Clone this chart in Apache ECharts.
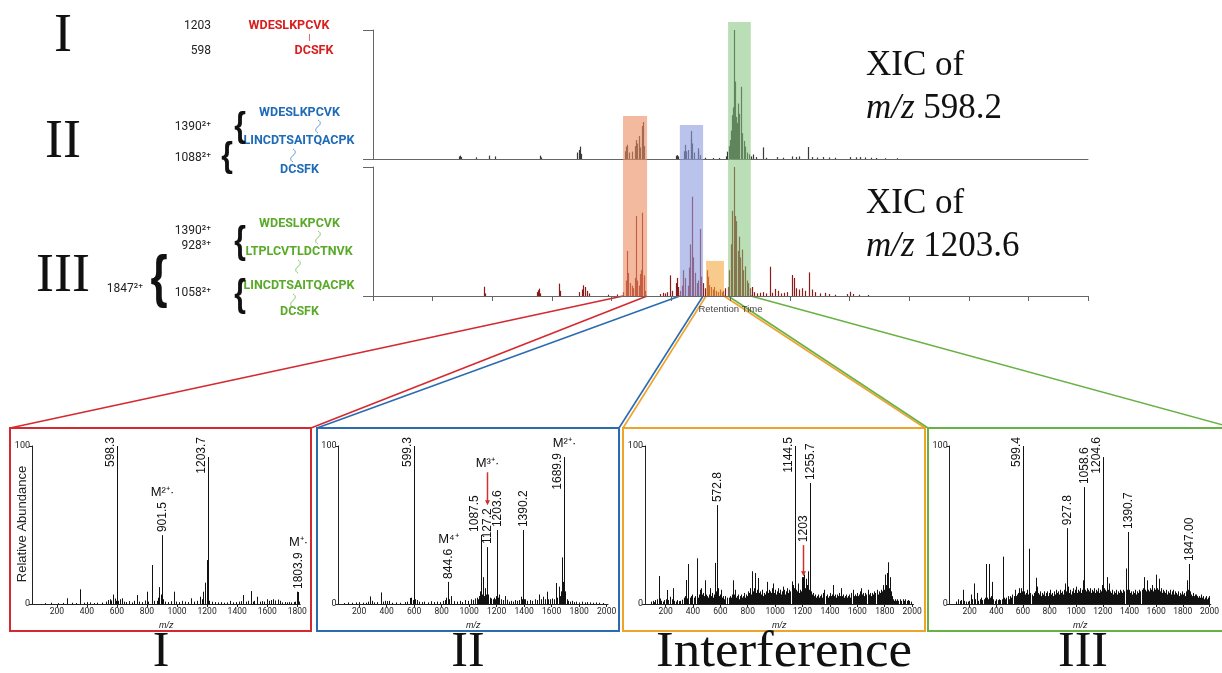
<!DOCTYPE html>
<html><head><meta charset="utf-8">
<script src="https://cdn.jsdelivr.net/npm/echarts@6/dist/echarts.min.js"></script>
<style>html,body{margin:0;padding:0;background:#fff}#c{width:1222px;height:673px}</style>
</head><body><div id="c"></div>
<script>
// ---------------- DATA ----------------
// XIC peaks [retention time, relative intensity %]
const xicUpper = [
[1.44,2],[1.46,2.6],[1.48,1.5],[1.73,1.3],[1.95,2.6],[2.05,2],[2.80,2.6],[2.82,1.2],[3.43,5],[3.45,7],[3.47,9.6],[3.49,4],
[4.23,6],[4.25,9.6],[4.27,11],[4.29,5],[4.34,5.7],[4.40,10],[4.41,14.7],[4.43,12],[4.46,17.8],[4.48,9],[4.51,25.6],[4.53,28.7],[4.55,10],
[5.08,2.5],[5.10,3],[5.12,2],[5.22,6],[5.24,11],[5.26,6],[5.29,7],[5.33,15],[5.34,21.7],[5.36,12],[5.38,5],[5.45,6],[5.46,8.3],[5.48,3],[5.58,1],[5.70,0.8],[5.80,0.8],
[5.92,2],[5.94,5.7],[5.97,10],[5.99,14.7],[6.01,22],[6.03,34],[6.04,40],[6.06,100],[6.08,60],[6.09,32.6],[6.11,28],[6.13,43],[6.15,35],[6.18,56],[6.20,20],[6.22,14],[6.24,9.6],[6.27,5],[6.31,3.6],[6.34,2],
[6.38,3.5],[6.42,1.5],[6.55,9],[6.60,1],[6.78,1.5],[6.88,1],[7.03,2],[7.10,1.5],[7.15,2],[7.30,9.3],[7.36,1.5],[7.45,1.2],[7.55,1.5],[7.65,1.2],[7.75,1],[8.00,1.5],[8.10,1.3],[8.18,1.5],[8.25,1.2],[8.35,1],[8.45,0.8],[8.60,0.6],[8.80,0.6]
];
const xicLower = [
[1.86,7.2],[1.88,2],
[2.76,3],[2.77,4.4],[2.79,5.7],[2.81,2],[3.13,9.6],[3.14,4],[3.46,3],[3.50,5],[3.53,8.3],[3.56,7],[3.59,4],[3.63,2],[3.95,1],[4.10,1.2],
[4.20,3],[4.24,12],[4.26,35],[4.28,17.8],[4.31,10],[4.34,8],[4.37,6],[4.39,14],[4.41,62],[4.43,12],[4.46,8],[4.48,17],[4.50,20],[4.515,64.6],[4.54,16],[4.57,4],
[4.82,1.5],[4.86,2.5],[4.90,2],[4.93,3],[4.985,16],[5.02,4],[5.08,10],[5.10,14],[5.12,7],[5.15,4],
[5.18,8],[5.21,20],[5.24,14],[5.28,8],[5.30,22],[5.32,40],[5.355,77],[5.37,30],[5.40,18],[5.43,10],[5.46,12],[5.49,52],[5.51,15],[5.54,10],[5.57,6],
[5.60,20],[5.62,15],[5.64,8.5],[5.67,7],[5.70,5],[5.73,7],[5.76,4],[5.79,3],[5.82,5],[5.85,3],[5.88,4],[5.91,6],
[5.95,7],[5.98,20],[6.00,40],[6.03,66],[6.06,100],[6.08,62],[6.10,58],[6.12,35],[6.14,46],[6.16,30],[6.19,36],[6.21,20],[6.24,23],[6.27,12],[6.30,10],[6.33,6],
[6.36,7],[6.40,3],[6.45,2],[6.50,2.5],[6.55,3],[6.60,2],[6.66,22.7],[6.70,2.5],[6.75,5.5],[6.80,4],[6.85,2],[6.90,2.5],[6.95,3],[7.04,16.3],[7.06,14],[7.10,6],[7.15,5],[7.20,6],[7.25,4],[7.32,18.3],[7.36,5],[7.42,3],[7.50,2],[7.58,2.5],[7.65,1.5],[7.75,1],[7.95,1.5],[8.00,3.3],[8.05,1.5],[8.15,1],[8.30,0.8]
];
// Highlighted retention-time windows (I, II, Interference, III)
const rtWindows = [[4.196,4.600],[5.150,5.540],[5.590,5.890],[5.960,6.340]];
const windowHeights = [0.657,0.624,0.128,1.0];

// MS spectra peaks [m/z, relative abundance]
const specI = [
[120,0.6],[160,0.8],[205,0.5],[240,0.7],[265,3.6],[300,0.8],[330,0.6],[354,9.3],[380,0.8],[400,1.2],[420,1.0],[445,0.6],[470,0.8],[500,0.9],[525,1.5],[540,2.5],[553,3.0],[562,2.2],[576,6.0],[587,3.5],[592,2.0],[598.3,100],[605,2.0],[620,3.0],[631,3.6],[645,1.5],[660,1.2],[680,1.8],[700,1.0],[712,2.0],[735,5.7],[750,1.5],[765,1.2],[785,2.2],[798,7.8],[810,1.5],[831,24.7],[845,2.0],[864,2.0],[875,4.0],[882,10.7],[890,6],[895,3],[901.5,43.6],[908,3.0],[920,1.5],[940,1.2],[960,1.8],[979,7.8],[990,1.5],[1010,1.2],[1030,2.0],[1050,1.5],[1070,1.2],[1090,3.6],[1110,1.5],[1130,2.0],[1152,4.6],[1165,3.0],[1175,7.8],[1186,13.5],[1197,27.8],[1203.7,93],[1209,5],[1215,2.0],[1230,1.5],[1250,1.2],[1270,1.0],[1290,1.2],[1310,0.8],[1330,1.0],[1352,2.0],[1370,1.0],[1390,1.2],[1410,1.5],[1425,1.8],[1441,5.7],[1460,1.5],[1475,2.0],[1490,8.2],[1505,1.5],[1515,2.0],[1530,4.6],[1550,1.5],[1565,1.8],[1580,1.5],[1597,3.0],[1610,2.0],[1625,2.5],[1640,3.0],[1655,2.2],[1670,2.8],[1685,2.0],[1700,1.0],[1715,1.2],[1730,1.0],[1745,1.2],[1760,1.0],[1775,1.2],[1785,1.5],[1796,7.8],[1803.9,7.6],[1810,1.5]
];
const specII = [
[90,0.6],[120,1.0],[150,0.8],[180,1.0],[200,1.2],[225,0.8],[250,0.8],[265,1.5],[279,4.8],[290,2.0],[310,1.0],[330,1.2],[359,7.3],[375,1.5],[390,2.0],[405,1.8],[415,2.0],[440,0.8],[470,1.0],[500,0.8],[530,1.2],[550,1.5],[570,3.8],[580,4.0],[590,2.5],[599.3,100],[600.3,25],[606,3],[620,2.5],[635,1.5],[655,1.2],[675,1.5],[700,1.0],[720,1.8],[745,1.2],[765,1.5],[790,1.2],[810,2.0],[825,2.5],[835,4.0],[844.6,14],[852,3],[870,5.0],[890,1.8],[910,1.5],[930,2.0],[950,1.2],[970,2.5],[990,2.0],[1010,3.0],[1025,2.5],[1040,3.5],[1055,4.0],[1065,3.0],[1075,5.0],[1082,8],[1087.5,43.7],[1093,6],[1100,17],[1108,5],[1117,10],[1122,6],[1127.2,36],[1133,5],[1140,6],[1150,4],[1160,3.5],[1170,3],[1180,4],[1190,3],[1198,5],[1203.6,46.8],[1210,4],[1220,6],[1235,3],[1248,2.5],[1260,5],[1275,2.7],[1290,1.5],[1305,2.0],[1320,1.5],[1335,2.5],[1350,2.0],[1365,2.5],[1377,4.6],[1385,3],[1390.2,46.8],[1396,3],[1403,3],[1420,2.0],[1440,2.5],[1460,2.0],[1480,3.0],[1495,2.5],[1510,6.0],[1520,3.0],[1539,4.6],[1550,3.0],[1563,7.8],[1575,3.0],[1590,3.0],[1605,3.5],[1615,3.0],[1630,13.3],[1640,4],[1650,11],[1660,5],[1666,8],[1673,29.5],[1680,11],[1685,14],[1689.9,93],[1695,8],[1700,6],[1710,3],[1720,2],[1735,1.5],[1750,2.0],[1765,1.2],[1780,1.5],[1800,1.0],[1820,1.5],[1840,1.0],[1860,1.2],[1880,1.0],[1900,0.8],[1920,1.0],[1945,0.8],[1970,0.6]
];
const specInt = [
[95,1.5],[105,2.0],[115,1.2],[125,2.5],[140,3.0],[152,17.7],[160,3.5],[170,2.0],[180,1.5],[190,2.5],[200,3.0],[212,8.9],[220,2.5],[232,4.6],[245,3.0],[256,10],[265,2.0],[275,1.5],[285,2.5],[295,1.8],[305,2.0],[320,2.7],[332,4],[340,5],[347,15.2],[355,3.5],[366,25.3],[375,4],[385,5],[395,6],[405,4],[415,5],[427,28.9],[435,4],[445,6],[452,9],[459,10],[467,6],[475,7],[481,5],[488,15],[495,6],[502,5],[510,4],[518,6],[526,10],[533,5],[540,7],[548,4],[555,6],[561,26],[567,8],[572.8,62.6],[578,8],[585,10],[592,5],[598,6],[604,9],[612,4],[620,5],[628,3],[636,5],[645,4],[652,3],[660,4],[668,5],[676,4],[683,6],[690,15],[697,6],[707,9],[715,4],[723,5],[730,6],[737,3],[745,5],[752,6],[760,4],[768,5],[775,7],[782,4],[790,6],[797,5],[805,8],[812,7],[818,10],[825,6],[833,20.7],[840,8],[846,10],[852,19.6],[858,7],[864,9],[870,6],[877,16.5],[884,7],[890,8],[897,6],[905,9],[912,5],[920,7],[927,6],[933,8],[940,14],[947,7],[953,9],[960,5],[966,8],[973,7],[980,10],[986,13],[993,7],[1000,9],[1007,6],[1013,8],[1020,10],[1027,7],[1034,9],[1040,6],[1047,8],[1054,11],[1061,7],[1068,9],[1075,6],[1082,8],[1090,10],[1097,7],[1104,9],[1112,8],[1120,14.3],[1127,9],[1134,12],[1140,10],[1144.5,100],[1150,9],[1158,8],[1165,13],[1172,7],[1180,9],[1186,8],[1193,17],[1199,9],[1203,17],[1210,18.7],[1216,10],[1222,16],[1230,9],[1236,12],[1242,20.7],[1249,9],[1255.7,76.6],[1262,8],[1268,6],[1275,7],[1282,5],[1290,6],[1297,4],[1305,5],[1312,6],[1320,4],[1328,5],[1335,6],[1342,4],[1350,7],[1360,9],[1368,5],[1375,6],[1383,4],[1390,5],[1398,7],[1405,5],[1412,6],[1420,12],[1428,5],[1435,6],[1443,4],[1450,6],[1458,5],[1465,7],[1472,5],[1480,10],[1488,5],[1495,6],[1503,4],[1510,5],[1518,6],[1525,4],[1533,5],[1540,6],[1548,4],[1555,7],[1567,9],[1575,5],[1583,6],[1590,5],[1598,7],[1605,5],[1613,6],[1620,8],[1627,10],[1635,6],[1642,7],[1650,5],[1658,7],[1665,6],[1676,9],[1684,6],[1692,7],[1700,5],[1708,7],[1716,6],[1724,8],[1732,7],[1740,9],[1748,6],[1755,8],[1762,7],[1770,9],[1777,8],[1784,10],[1790,12],[1795,9],[1801,18.6],[1807,12],[1813,19.6],[1819,14],[1825,26.4],[1831,10],[1837,17],[1843,8],[1850,5],[1858,3],[1866,2],[1875,3],[1884,2],[1892,3],[1900,2],[1910,3],[1920,2],[1930,3],[1940,2],[1950,3],[1960,2],[1970,2.5],[1980,2],[1990,1.5]
];
const specIII = [
[100,1.5],[112,3],[125,2],[135,2.5],[148,9],[158,2],[170,1.5],[185,1.5],[195,2],[208,6],[218,3],[232,13],[242,3],[256,7],[265,2],[275,3],[285,4],[295,2.5],[305,3],[315,4],[323,25.3],[332,4],[340,3],[347,25.3],[355,4],[362,5],[369,14],[378,3],[388,2],[398,3],[410,2.5],[420,3],[430,2.5],[440,3],[450,30],[458,4],[466,3],[475,4],[485,5],[495,3],[503,5],[512,4],[520,6],[530,5],[540,9],[548,5],[556,6],[563,7],[569,10],[577,7],[585,10],[592,8],[599.4,100],[600.4,72],[606,8],[613,6],[620,7],[630,9],[638,6],[647,35],[655,7],[665,6],[672,5],[680,7],[688,6],[694,8],[700,16.6],[705,11],[712,7],[720,6],[727,8],[734,5],[741,7],[748,6],[755,8],[762,5],[770,7],[777,6],[784,8],[790,5],[798,7],[805,9],[812,6],[820,7],[827,5],[835,8],[842,6],[850,9],[857,7],[864,8],[871,6],[878,9],[885,7],[892,8],[898,6],[905,9],[911,7],[916,13],[922,8],[927.8,48],[933,9],[940,11],[946,7],[953,9],[960,6],[967,8],[973,10],[980,7],[987,9],[994,8],[1000,11],[1007,7],[1014,9],[1020,8],[1027,10],[1034,7],[1041,9],[1050,15],[1058.6,74],[1065,9],[1072,8],[1078,10],[1085,7],[1092,9],[1099,8],[1106,10],[1113,7],[1120,9],[1127,8],[1134,10],[1141,7],[1148,9],[1155,8],[1162,10],[1170,7],[1177,9],[1183,8],[1190,12],[1197,9],[1204.6,93],[1210,10],[1216,9],[1223,8],[1230,17],[1238,9],[1247,13],[1254,8],[1261,7],[1268,9],[1275,6],[1282,8],[1290,7],[1297,9],[1304,6],[1311,8],[1318,7],[1325,9],[1332,6],[1339,8],[1346,7],[1353,9],[1360,8],[1370,22.5],[1378,9],[1385,10],[1390.7,45.6],[1397,9],[1404,7],[1411,8],[1418,6],[1425,8],[1432,7],[1440,9],[1447,6],[1454,8],[1461,7],[1468,9],[1475,8],[1482,7],[1490,9],[1497,8],[1503,10],[1509,17],[1516,9],[1523,8],[1530,15],[1537,9],[1544,8],[1551,10],[1558,9],[1566,12],[1573,8],[1580,9],[1587,10],[1594,9],[1601,18.6],[1608,10],[1613,9],[1618,16],[1625,9],[1632,8],[1639,10],[1646,7],[1653,9],[1660,8],[1667,7],[1674,9],[1681,6],[1688,8],[1695,7],[1702,9],[1709,6],[1716,8],[1723,7],[1730,9],[1737,6],[1744,8],[1751,7],[1758,6],[1765,8],[1772,5],[1779,7],[1786,6],[1793,8],[1800,6],[1807,7],[1814,5],[1821,8],[1828,7],[1835,15],[1841,9],[1847,25.3],[1853,8],[1860,6],[1867,5],[1874,7],[1881,5],[1888,6],[1895,4],[1902,6],[1909,5],[1916,4],[1923,5],[1930,4],[1937,6],[1944,4],[1951,5],[1958,3],[1965,4],[1972,5],[1979,3],[1986,4],[1993,5],[2000,3]
];
// labelled peaks [m/z, abundance, label, ion annotation]
const labelsI = [[598.3,100,'598.3',''],[901.5,43.6,'901.5','M²⁺·'],[1203.7,93,'1203.7',''],[1803.9,7.6,'1803.9','M⁺·']];
const labelsII = [[599.3,100,'599.3',''],[844.6,14,'844.6','M⁴⁺'],[1087.5,43.7,'1087.5',''],[1127.2,36,'1127.2','M³⁺·'],[1203.6,46.8,'1203.6',''],[1390.2,46.8,'1390.2',''],[1689.9,93,'1689.9','M²⁺·']];
const labelsInt = [[572.8,62.6,'572.8',''],[1144.5,100,'1144.5',''],[1203,17,'1203',''],[1255.7,76.6,'1255.7','']];
const labelsIII = [[599.4,100,'599.4',''],[927.8,48,'927.8',''],[1058.6,74,'1058.6',''],[1204.6,93,'1204.6',''],[1390.7,45.6,'1390.7',''],[1847.00,25.3,'1847.00','']];
const ticksI = [200,400,600,800,1000,1200,1400,1600,1800];
const ticksII = [200,400,600,800,1000,1200,1400,1600,1800,2000];
const panelNames = ['I','II','Interference','III'];

// ---------------- STYLE ----------------
const SERIF = '"Liberation Serif","Times New Roman",serif';
const SANS = '"Liberation Sans",Arial,sans-serif';
const PEP = 'Roboto,"Liberation Sans",sans-serif';
const RED='#d42a2f', BLUE='#2b6cb0', ORANGE='#eea32d', GREEN='#68b245';
const windowColors = ['rgba(236,140,95,0.6)','rgba(140,155,222,0.6)','rgba(244,168,64,0.6)','rgba(130,195,120,0.55)'];
const boxes = [{x:10,y:428,w:301,h:203,c:RED},{x:317,y:428,w:302,h:203,c:BLUE},{x:623,y:428,w:302,h:203,c:ORANGE},{x:928,y:428,w:306,h:203,c:GREEN}];
const labelLayout = {
 '598.3':{side:true}, '1203.7':{side:true}, '599.3':{side:true}, '1689.9':{side:true, cap:95.6},
 '1087.5':{dx:-7}, '1127.2':{ionArrow:true}, '1144.5':{side:true}, '1203':{arrowBelow:true},
 '599.4':{side:true}, '1204.6':{side:true}
};
const LF = '12px ' + SANS;
const mctx = document.createElement('canvas').getContext('2d');
function tw(t,f){ mctx.font=f; return mctx.measureText(t).width; }

function stick(color, lw){
  return function(params, api){
    const x=api.value(0), y=api.value(1);
    const a=api.coord([x,0]), b=api.coord([x,y]);
    const px=Math.round(a[0])+0.5;
    return {type:'line', shape:{x1:px,y1:a[1],x2:px,y2:b[1]}, style:{stroke:color,lineWidth:lw}};
  };
}
function arrow(x,y1,y2){
  return {type:'group',children:[
    {type:'line',shape:{x1:x,y1:y1,x2:x,y2:y2-4},style:{stroke:'#d03030',lineWidth:1.5}},
    {type:'polygon',shape:{points:[[x-2.5,y2-5],[x+2.5,y2-5],[x,y2]]},style:{fill:'#d03030'}}
  ]};
}
function labelRender(list){
  return function(params, api){
    const row=list[params.dataIndex];
    const mz=row[0], h=row[1], text=row[2], ion=row[3];
    const st=labelLayout[text]||{};
    const p=api.coord([mz,h]);
    const px=Math.round(p[0])+0.5;
    const len=tw(text,LF);
    const ch=[]; let top;
    if(st.side){
      const capY=api.coord([mz, st.cap!=null?st.cap:105.7])[1];
      ch.push({type:'text',x:px-1,y:capY,rotation:Math.PI/2,style:{text:text,font:LF,fill:'#111',align:'right',verticalAlign:'bottom'}});
      top=capY;
    } else {
      let bottom=p[1]-3;
      if(st.arrowBelow){ ch.push(arrow(px,p[1]-32,p[1]-1)); bottom=p[1]-35; }
      ch.push({type:'text',x:px+(st.dx||0),y:bottom,rotation:Math.PI/2,style:{text:text,font:LF,fill:'#111',align:'left',verticalAlign:'middle'}});
      top=bottom-len;
    }
    if(ion){
      let b=top-3;
      if(st.ionArrow){ ch.push(arrow(px,top-36,top-3)); b=top-38; }
      ch.push({type:'text',x:px,y:b,style:{text:ion,font:'13px '+SANS,fill:'#111',align:'center',verticalAlign:'bottom'}});
    }
    return {type:'group',children:ch};
  };
}

// ---------------- AXES / GRIDS ----------------
const specGrids = [
  {left:32, width:268.3, min:35, max:1820, ticks:ticksI},
  {left:338.5, width:269.5, min:50, max:2010, ticks:ticksII},
  {left:645, width:268.5, min:50, max:2010, ticks:ticksII},
  {left:949.7, width:272, min:50, max:2010, ticks:ticksII}
];
const grid=[
  {left:373,top:30,width:715,height:129},
  {left:373,top:167,width:715,height:129},
  {left:373,top:22,width:715,height:274}
];
const xAxis=[
  {gridIndex:0,type:'value',min:0,max:12,axisLine:{lineStyle:{color:'#666'}},axisTick:{show:false},axisLabel:{show:false},splitLine:{show:false}},
  {gridIndex:1,type:'value',min:0,max:12,interval:1,axisLine:{lineStyle:{color:'#666'}},axisTick:{show:true,length:5,lineStyle:{color:'#666'}},axisLabel:{show:false},splitLine:{show:false},
   name:'Retention Time',nameLocation:'middle',nameGap:8,nameMoveOverlap:false,nameTextStyle:{fontSize:9.5,color:'#444',fontFamily:SANS}},
  {gridIndex:2,type:'value',min:0,max:12,show:false}
];
const yAxis=[
  {gridIndex:0,type:'value',min:0,max:100,interval:100,axisLine:{show:true,lineStyle:{color:'#666'}},axisTick:{show:true,length:10,lineStyle:{color:'#666'}},axisLabel:{show:false},splitLine:{show:false}},
  {gridIndex:1,type:'value',min:0,max:100,interval:100,axisLine:{show:true,lineStyle:{color:'#666'}},axisTick:{show:true,length:10,lineStyle:{color:'#666'}},axisLabel:{show:false},splitLine:{show:false}},
  {gridIndex:2,type:'value',min:0,max:1,show:false}
];
specGrids.forEach((g,i)=>{
  grid.push({left:g.left,top:446,width:g.width,height:158});
  xAxis.push({gridIndex:3+i,type:'value',min:g.min,max:g.max,
    axisLine:{lineStyle:{color:'#222'}},axisTick:{show:true,length:3,customValues:g.ticks,lineStyle:{color:'#222'}},
    axisLabel:{customValues:g.ticks,formatter:function(v){return String(v);},fontSize:8.5,margin:3,color:'#222',fontFamily:PEP},splitLine:{show:false},
    name:'m/z',nameLocation:'middle',nameGap:17,nameMoveOverlap:false,nameTextStyle:{fontSize:9,fontStyle:'italic',color:'#222',fontFamily:SANS}});
  yAxis.push({gridIndex:3+i,type:'value',min:0,max:100,interval:100,axisLine:{show:true,lineStyle:{color:'#222'}},
    axisTick:{show:true,length:3,lineStyle:{color:'#222'}},axisLabel:{fontSize:9,margin:2,color:'#222',fontFamily:PEP},splitLine:{show:false}});
});

// ---------------- SERIES ----------------
const series=[
  {type:'custom',xAxisIndex:0,yAxisIndex:0,data:xicUpper,renderItem:stick('#3a3a3a',1.2),z:2},
  {type:'custom',xAxisIndex:1,yAxisIndex:1,data:xicLower,renderItem:stick('#8b1a1a',1.2),z:2},
  {type:'custom',xAxisIndex:2,yAxisIndex:2,z:5,data:rtWindows.map((w,i)=>[w[0],w[1],windowHeights[i]]),
   renderItem:function(params,api){
     const a=api.coord([api.value(0),api.value(2)]), b=api.coord([api.value(1),0]);
     return {type:'rect',shape:{x:a[0],y:a[1],width:b[0]-a[0],height:b[1]-a[1]},style:{fill:windowColors[params.dataIndex]}};
   }}
];
[[specI,labelsI],[specII,labelsII],[specInt,labelsInt],[specIII,labelsIII]].forEach((s,i)=>{
  series.push({type:'custom',xAxisIndex:3+i,yAxisIndex:3+i,data:s[0],renderItem:stick('#111',1),z:2});
  series.push({type:'custom',xAxisIndex:3+i,yAxisIndex:3+i,data:s[1].map(r=>[r[0],r[1]]),renderItem:labelRender(s[1]),z:3});
});

// ---------------- ANNOTATION TEXT ----------------
function T(text,x,y,font,fill,align,extra){
  return Object.assign({type:'text',x:x,y:y,silent:true,style:{text:text,font:font,fill:fill||'#111',align:align||'left',verticalAlign:'middle'}},extra||{});
}
// small wavy cross-link connector (decoration)
function wave(x,y,color){
  const st={fill:'none',stroke:color,lineWidth:1};
  return {type:'group',x:x,y:y,silent:true,children:[
    {type:'bezierCurve',shape:{x1:0,y1:0,cpx1:3,cpy1:1.5,cpx2:3,cpy2:4.5,x2:0,y2:6.5},style:st},
    {type:'bezierCurve',shape:{x1:0,y1:6.5,cpx1:-3,cpy1:8.5,cpx2:-3,cpy2:11.5,x2:0,y2:13},style:st}
  ]};
}
const g=[];
// Roman numerals left
g.push(T('I',63,37,'54px '+SERIF,'#111','center'));
g.push(T('II',63,143,'54px '+SERIF,'#111','center'));
g.push(T('III',63,277,'54px '+SERIF,'#111','center'));
// I
g.push(T('1203',211,26,'12px '+PEP,'#222','right'));
g.push(T('598',211,51,'12px '+PEP,'#222','right'));
g.push(T('WDESLKPCVK',289,26,'bold 12.5px '+PEP,'#d81e1e','center'));
g.push({type:'line',silent:true,shape:{x1:309.5,y1:34,x2:309.5,y2:41},style:{stroke:'#e07070',lineWidth:1}});
g.push(T('DCSFK',314,51,'bold 12.5px '+PEP,'#d81e1e','center'));
// II
const BL='#1e6bb8';
g.push(T('WDESLKPCVK',299.5,113,'bold 12.5px '+PEP,BL,'center'));
g.push(wave(318,120,'#6a9bd0'));
g.push(T('LINCDTSAITQACPK',299,141,'bold 12.5px '+PEP,BL,'center'));
g.push(wave(293,149,'#6a9bd0'));
g.push(T('DCSFK',299.5,170,'bold 12.5px '+PEP,BL,'center'));
g.push(T('1390²⁺',211,127,'12px '+PEP,'#222','right'));
g.push(T('1088²⁺',211,158,'12px '+PEP,'#222','right'));
g.push(T('{',240,127,'bold 30px '+SANS,'#111','center',{scaleY:1.15}));
g.push(T('{',227,157,'bold 30px '+SANS,'#111','center',{scaleY:1.15}));
// III
const GR='#5aaa2a';
g.push(T('WDESLKPCVK',299.5,224,'bold 12.5px '+PEP,GR,'center'));
g.push(wave(318,231,'#8cc870'));
g.push(T('LTPLCVTLDCTNVK',299,252,'bold 12.5px '+PEP,GR,'center'));
g.push(wave(298,260,'#8cc870'));
g.push(T('LINCDTSAITQACPK',299,286,'bold 12.5px '+PEP,GR,'center'));
g.push(wave(293,294,'#8cc870'));
g.push(T('DCSFK',299.5,312,'bold 12.5px '+PEP,GR,'center'));
g.push(T('1390²⁺',211,231,'12px '+PEP,'#222','right'));
g.push(T('928³⁺',211,246,'12px '+PEP,'#222','right'));
g.push(T('1847²⁺',143,289,'12px '+PEP,'#222','right'));
g.push(T('1058²⁺',211,293,'12px '+PEP,'#222','right'));
g.push(T('{',240,242,'bold 30px '+SANS,'#111','center',{scaleY:1.3}));
g.push(T('{',240,295,'bold 30px '+SANS,'#111','center',{scaleY:1.3}));
g.push(T('{',159,280,'bold 44px '+SANS,'#111','center',{scaleY:1.3}));
// XIC titles
const XF='35px '+SERIF, XFI='italic 35px '+SERIF;
g.push(T('XIC of',866,66,XF));
g.push(T('m/z',866,109,XFI));
g.push(T('598.2',866+tw('m/z ',XFI),109,XF));
g.push(T('XIC of',866,204,XF));
g.push(T('m/z',866,247,XFI));
g.push(T('1203.6',866+tw('m/z ',XFI),247,XF));
// y-axis title of the first spectrum
g.push(T('Relative Abundance',22,524,'13px '+SANS,'#222','center',{rotation:Math.PI/2}));
// spectra boxes and bottom names
boxes.forEach((b,i)=>{
  g.push({type:'rect',silent:true,shape:{x:b.x,y:b.y,width:b.w,height:b.h},style:{fill:'none',stroke:b.c,lineWidth:2}});
});
const nameX=[161,468,784,1083];
panelNames.forEach((n,i)=>{
  g.push(T(n,nameX[i],653,'50px '+SERIF,'#111','center',i===2?{scaleX:1.06}:{}));
});

const option={
  backgroundColor:'#ffffff',
  animation:false,
  grid:grid, xAxis:xAxis, yAxis:yAxis, series:series,
  graphic:{elements:g}
};
const chart=echarts.init(document.getElementById('c'));
chart.setOption(option);

// connector lines from the retention-time windows to the spectra boxes
const conns=[];
rtWindows.forEach((w,i)=>{
  const L=chart.convertToPixel({gridIndex:2},[w[0],0]);
  const R=chart.convertToPixel({gridIndex:2},[w[1],0]);
  const b=boxes[i];
  conns.push({type:'line',silent:true,shape:{x1:L[0],y1:L[1],x2:b.x,y2:b.y},style:{stroke:b.c,lineWidth:1.6}});
  conns.push({type:'line',silent:true,shape:{x1:R[0],y1:R[1],x2:b.x+b.w,y2:b.y},style:{stroke:b.c,lineWidth:1.6}});
});
chart.setOption({graphic:{elements:g.concat(conns)}});
</script>
</body></html>
